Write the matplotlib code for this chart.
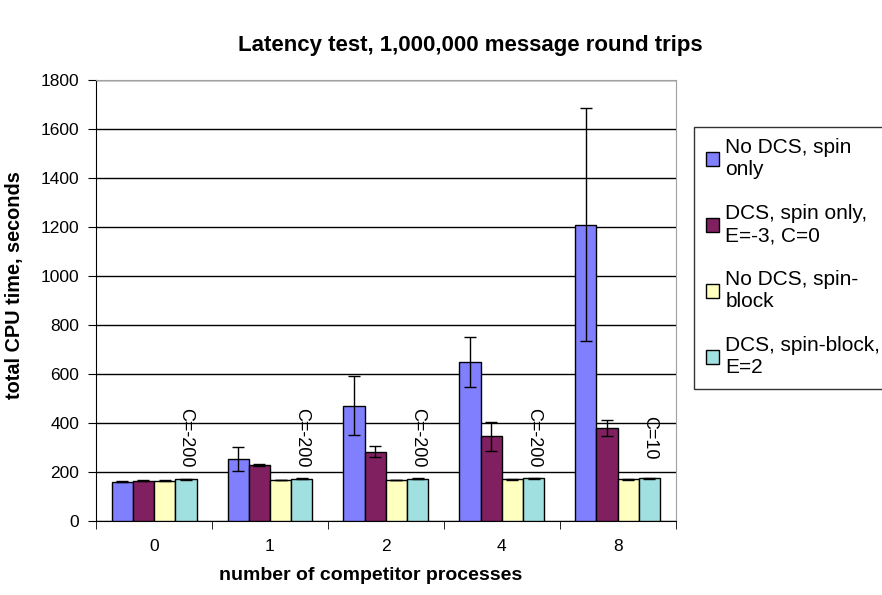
import matplotlib.pyplot as plt
import numpy as np

plt.rcParams['font.family'] = ['Liberation Sans', 'DejaVu Sans']

# data
groups = ['0', '1', '2', '4', '8']
series = ['No DCS, spin\nonly', 'DCS, spin only,\nE=-3, C=0',
          'No DCS, spin-\nblock', 'DCS, spin-block,\nE=2']
values = [
    [160, 255, 470, 650, 1210],
    [165, 228, 283, 345, 378],
    [165, 167, 168, 170, 170],
    [170, 172, 173, 175, 175],
]
err_low = [
    [2, 50, 120, 102, 475],
    [2, 5, 23, 60, 33],
    [1, 1, 1, 1, 1],
    [2, 2, 2, 2, 2],
]
err_high = [
    [2, 45, 120, 102, 475],
    [2, 5, 23, 60, 33],
    [1, 1, 1, 1, 1],
    [2, 2, 2, 2, 2],
]
notes = ['C=-200', 'C=-200', 'C=-200', 'C=-200', 'C=10']
colors = ['#8080ff', '#802060', '#ffffc0', '#a0e0e0']

fig = plt.figure(figsize=(8.82, 5.95), dpi=100)
ax = fig.add_axes([0.109, 0.1244, 0.657, 0.7411])

x = np.arange(len(groups))
w = 0.183
for i, (vals, lo, hi) in enumerate(zip(values, err_low, err_high)):
    pos = x + (i - 1.5) * w
    ax.bar(pos, vals, width=w, color=colors[i], edgecolor='black',
           linewidth=1.0, label=series[i], zorder=3)
    ax.errorbar(pos, vals, yerr=[lo, hi], fmt='none', ecolor='black',
                elinewidth=1.0, capsize=4, capthick=1.0, zorder=4)

for g, note in zip(x, notes):
    ax.text(g + 1.5 * w, 340, note, rotation=270, ha='center', va='center',
            fontsize=13)

ax.set_xlim(-0.5, len(groups) - 0.5)
ax.set_ylim(0, 1800)
ax.set_yticks(np.arange(0, 1801, 200))
ax.set_xticks(x)
ax.set_xticklabels(groups)
ax.set_xticks(np.arange(-0.5, len(groups)), minor=True)
ax.tick_params(axis='x', which='major', length=0, labelsize=12.5, pad=13)
ax.tick_params(axis='x', which='minor', length=6, direction='out')
ax.tick_params(axis='y', labelsize=12.5, length=6, pad=6)

ax.grid(axis='y', color='black', linewidth=1.0, zorder=0)
ax.set_axisbelow(True)
ax.spines['top'].set_color('#a0a0a0')
ax.spines['right'].set_color('#a0a0a0')

ax.set_xlabel('number of competitor processes', fontsize=14,
              fontweight='bold')
ax.xaxis.set_label_coords(0.473, -0.104)
ax.set_ylabel('total CPU time, seconds', fontsize=14.3, fontweight='bold')
ax.yaxis.set_label_coords(-0.124, 0.536)
fig.suptitle('Latency test, 1,000,000 message round trips', fontsize=16,
             fontweight='bold', x=0.533, y=0.924, va='center')

leg = fig.legend(loc='upper left', bbox_to_anchor=(0.787, 0.787),
                 fontsize=15, frameon=True, fancybox=False,
                 edgecolor='black', handlelength=0.65, handleheight=0.65,
                 handletextpad=0.3, labelspacing=1.2, borderpad=0.55,
                 borderaxespad=0)
leg.get_frame().set_linewidth(1.0)

fig.savefig('out.png', dpi=100)
